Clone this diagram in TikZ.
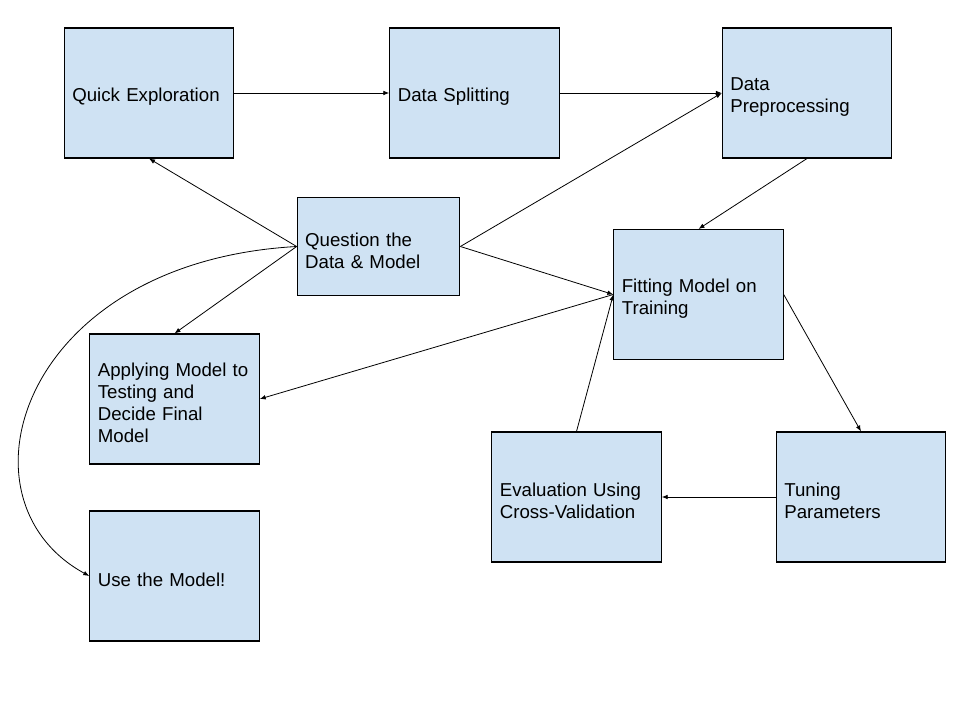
\documentclass[tikz,border=0pt]{standalone}
\usepackage{fontspec}
\setmainfont{Liberation Sans}
\usetikzlibrary{arrows.meta}

\definecolor{boxBlue}{HTML}{CFE2F3}

\tikzset{
    block/.style={draw=black, line width=0.8pt, fill=boxBlue, rectangle, align=left,
        minimum width=127pt, minimum height=97.5pt, text width=115pt, inner xsep=6pt,
        font=\fontsize{14}{16.5}\selectfont,
        execute at begin node={\rule{0pt}{16pt}}},
    link/.style={->, line width=0.6pt, black}
}

\begin{document}
\begin{tikzpicture}[>={Latex[length=4.5pt,width=3.5pt]}, x=0.75pt, y=-0.75pt]
    \useasboundingbox (0,0) rectangle (960,720);

    \node[block] (qExplore) at (149,93) {Quick Exploration};
    \node[block] (dataSplit) at (474.5,93) {Data Splitting};
    \node[block] (dataPrep) at (807,93) {Data\\Preprocessing};

    \node[block, minimum width=122pt, minimum height=73pt, text width=110pt] (question) at (378.5,246.5) {Question the\\Data \& Model};
    \node[block] (fitModel) at (698.5,294.5) {Fitting Model on\\Training};

    \node[block] (applyModel) at (174.5,399) {Applying Model to\\Testing and\\Decide Final\\Model};
    \node[block] (evalCV) at (576.5,497) {Evaluation Using\\Cross-Validation};
    \node[block] (tuneParam) at (861,497) {Tuning\\Parameters};
    \node[block] (useModel) at (174.5,576) {Use the Model!};

    % top row
    \draw[link] (qExplore.east) -- (dataSplit.west);
    \draw[link] (dataSplit.east) -- (dataPrep.west);

    % out of the question box
    \draw[link] (question.east) -- (dataPrep.west);
    \draw[link] (question.east) -- (fitModel.west);
    \draw[link] (question.west) -- (qExplore.south);
    \draw[link] (question.west) -- (applyModel.north);
    \draw[link] (question.west) .. controls (20,262) and (-50,500) .. (useModel.west);

    % training loop
    \draw[link] (dataPrep.south) -- (fitModel.north);
    \draw[link] (fitModel.west) -- (applyModel.east);
    \draw[link] (fitModel.east) -- (tuneParam.north);
    \draw[link] (tuneParam.west) -- (evalCV.east);
    \draw[link] (evalCV.north) -- (fitModel.west);
\end{tikzpicture}
\end{document}
